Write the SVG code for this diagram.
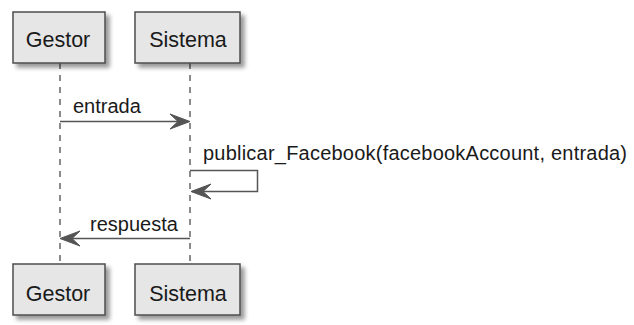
<svg xmlns="http://www.w3.org/2000/svg" width="634" height="325" viewBox="0 0 634 325">
<style>
.box{fill:#E6E6E6;stroke:#4D4D4D;stroke-width:1.5;filter:url(#sh)}
.pt{font-family:"Liberation Sans",Arial,sans-serif;font-size:21.5px;fill:#1A1A1A;text-anchor:middle}
.mt{font-family:"Liberation Sans",Arial,sans-serif;font-size:20px;fill:#1A1A1A}
.life{stroke:#4D4D4D;stroke-width:1.3;stroke-dasharray:6,6;fill:none}
.msg{stroke:#555555;stroke-width:1.5;fill:none}
.head{fill:#555555;stroke:#555555;stroke-width:1}
</style>
<defs>
<filter id="sh" x="-20%" y="-20%" width="150%" height="150%">
<feDropShadow dx="4" dy="4" stdDeviation="2.2" flood-color="#000" flood-opacity="0.4"/>
</filter>
</defs>
<rect width="634" height="325" fill="#FFFFFF"/>
<g id="lifelines">
<line class="life" x1="60" y1="63" x2="60" y2="264"/>
<line class="life" x1="190" y1="63" x2="190" y2="264"/>
</g>
<g id="Gestor">
<rect class="box" x="13" y="12" width="92" height="51"/>
<text class="pt" x="58" y="46.5">Gestor</text>
</g>
<g id="Sistema">
<rect class="box" x="135" y="12" width="105" height="51"/>
<text class="pt" x="188" y="46.5">Sistema</text>
</g>
<g id="Gestor-bottom">
<rect class="box" x="13" y="264" width="92" height="51"/>
<text class="pt" x="58" y="300.5">Gestor</text>
</g>
<g id="Sistema-bottom">
<rect class="box" x="135" y="264" width="105" height="51"/>
<text class="pt" x="188" y="300.5">Sistema</text>
</g>
<g id="connectors">
<line class="msg" x1="60" y1="121.5" x2="188" y2="121.5"/>
<polygon class="head" points="190,121.5 170,114 178,121.5 170,129"/>
<text class="mt" x="73" y="113">entrada</text>
<polyline class="msg" points="190,170.5 257.5,170.5 257.5,191.5 192,191.5"/>
<polygon class="head" points="191,191.5 211,184 203,191.5 211,199"/>
<text class="mt" x="203" y="160" textLength="424" lengthAdjust="spacing">publicar_Facebook(facebookAccount, entrada)</text>
<line class="msg" x1="62" y1="238.5" x2="190" y2="238.5"/>
<polygon class="head" points="60,238.5 80,231 72,238.5 80,246"/>
<text class="mt" x="90" y="231">respuesta</text>
</g>
</svg>
